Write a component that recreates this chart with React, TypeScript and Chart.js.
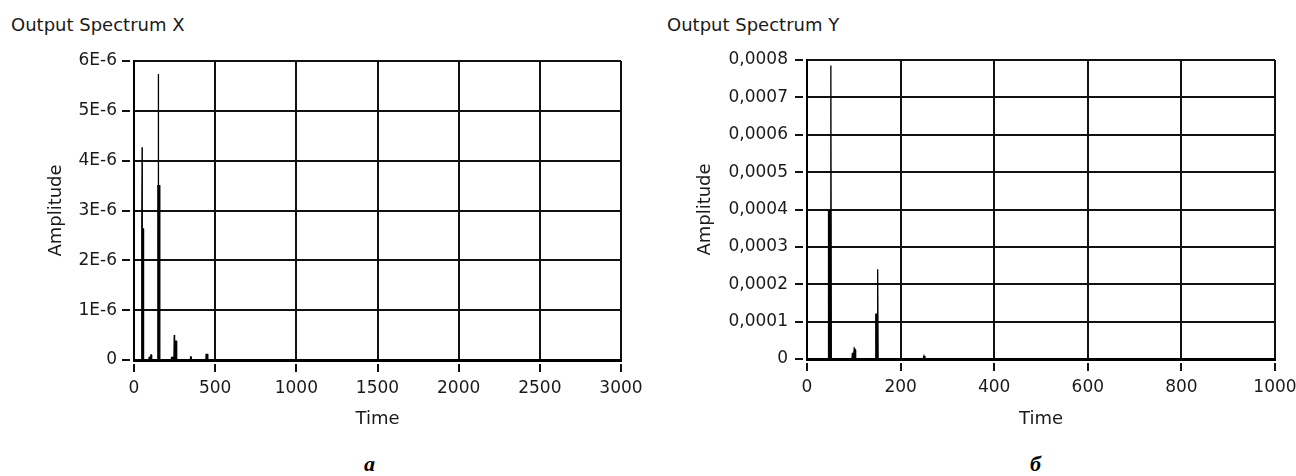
import React, { useEffect, useRef } from 'react';
import { Chart, registerables } from 'chart.js';

Chart.register(...registerables);

// ---- Output Spectrum X ----
const freqX = [0, 46, 47, 49, 50, 51, 58, 59, 92, 93, 100, 104, 108, 109, 146, 147, 149, 150, 151, 158, 159, 230, 231, 246, 248, 250, 262, 263, 346, 348, 352, 353, 443, 444, 454, 455, 3000];
const ampX = [0, 0, 2.63e-6, 2.63e-6, 4.27e-6, 2.63e-6, 2.63e-6, 0, 0, 0.05e-6, 0.06e-6, 0.1e-6, 0.1e-6, 0, 0, 3.5e-6, 3.5e-6, 5.74e-6, 3.5e-6, 3.5e-6, 0, 0, 0.05e-6, 0.05e-6, 0.5e-6, 0.38e-6, 0.38e-6, 0, 0, 0.06e-6, 0.06e-6, 0, 0, 0.11e-6, 0.11e-6, 0, 0];
const xTickValuesX = [0, 500, 1000, 1500, 2000, 2500, 3000];
const xTickLabelsX = ['0', '500', '1000', '1500', '2000', '2500', '3000'];
const yTickValuesX = [0, 1e-6, 2e-6, 3e-6, 4e-6, 5e-6, 6e-6];
const yTickLabelsX = ['0', '1E-6', '2E-6', '3E-6', '4E-6', '5E-6', '6E-6'];

// ---- Output Spectrum Y ----
const freqY = [0, 45, 46, 50, 51, 52, 96, 97, 100, 101, 103, 104, 146, 147, 150, 151, 152, 248, 250, 252, 1000];
const ampY = [0, 0, 3.96e-4, 3.96e-4, 7.85e-4, 0, 0, 1.5e-5, 1.5e-5, 2.9e-5, 2.5e-5, 0, 0, 1.2e-4, 1.2e-4, 2.4e-4, 0, 0, 8e-6, 0, 0];
const xTickValuesY = [0, 200, 400, 600, 800, 1000];
const xTickLabelsY = ['0', '200', '400', '600', '800', '1000'];
const yTickValuesY = [0, 0.0001, 0.0002, 0.0003, 0.0004, 0.0005, 0.0006, 0.0007, 0.0008];
const yTickLabelsY = ['0', '0,0001', '0,0002', '0,0003', '0,0004', '0,0005', '0,0006', '0,0007', '0,0008'];

const FONT = "'DejaVu Sans', sans-serif";
const TEXT = '#1a1a1a';
const GRID = '#111';
const H = 400;
const TOP = 40;

const tickMarks = {
  id: 'tickMarks',
  afterDraw(chart: any) {
    const { ctx, chartArea, scales } = chart;
    ctx.save();
    ctx.strokeStyle = GRID;
    ctx.lineWidth = 2;
    const xs = scales.x;
    xs.ticks.forEach((t: any) => {
      const px = Math.round(xs.getPixelForValue(t.value));
      ctx.beginPath();
      ctx.moveTo(px, chartArea.bottom + 4);
      ctx.lineTo(px, chartArea.bottom + 12);
      ctx.stroke();
    });
    const ys = scales.y;
    ys.ticks.forEach((t: any) => {
      const py = Math.round(ys.getPixelForValue(t.value));
      ctx.beginPath();
      ctx.moveTo(chartArea.left - 12, py);
      ctx.lineTo(chartArea.left - 4, py);
      ctx.stroke();
    });
    ctx.restore();
  },
};

type Props = {
  freq: number[];
  amp: number[];
  xMax: number;
  xTickValues: number[];
  xTickLabels: string[];
  yMax: number;
  yTickValues: number[];
  yTickLabels: string[];
  left: number;
  width: number;
  plotLeft: number;
  plotRight: number;
  plotTop: number;
  plotBottom: number;
  yLabelPad: number;
  yTitlePad: number;
};

function SpectrumChart(p: Props) {
  const ref = useRef<HTMLCanvasElement>(null);
  useEffect(() => {
    const chart = new Chart(ref.current as HTMLCanvasElement, {
      type: 'line',
      data: {
        datasets: [
          {
            data: p.freq.map((f, i) => ({ x: f, y: p.amp[i] })),
            borderColor: '#000',
            backgroundColor: '#000',
            borderWidth: 1.3,
            pointRadius: 0,
            fill: 'origin',
            tension: 0,
          },
        ],
      },
      options: {
        animation: false,
        responsive: false,
        events: [],
        layout: { padding: { top: p.plotTop, right: p.width - p.plotRight, left: 0, bottom: 0 } },
        plugins: { legend: { display: false }, tooltip: { enabled: false }, title: { display: false } },
        scales: {
          x: {
            type: 'linear',
            min: 0,
            max: p.xMax,
            afterBuildTicks: (s: any) => {
              s.ticks = p.xTickValues.map((v) => ({ value: v }));
            },
            afterFit: (s: any) => {
              s.height = H - p.plotBottom;
              s.paddingLeft = 0;
              s.paddingRight = 0;
            },
            grid: { color: GRID, lineWidth: 2, drawTicks: false },
            border: { display: true, color: '#000', width: 3 },
            ticks: {
              padding: 18,
              maxRotation: 0,
              autoSkip: false,
              color: TEXT,
              font: { family: FONT, size: 17 },
              callback: (_v: any, i: number) => p.xTickLabels[i],
            },
            title: {
              display: true,
              text: 'Time',
              color: TEXT,
              font: { family: FONT, size: 18 },
              padding: { top: 0, bottom: 10 },
            },
          },
          y: {
            type: 'linear',
            min: 0,
            max: p.yMax,
            afterBuildTicks: (s: any) => {
              s.ticks = p.yTickValues.map((v) => ({ value: v }));
            },
            afterFit: (s: any) => {
              s.width = p.plotLeft;
              s.paddingTop = 0;
              s.paddingBottom = 0;
            },
            grid: { color: GRID, lineWidth: 2, drawTicks: false },
            border: { display: true, color: '#000', width: 2 },
            ticks: {
              padding: p.yLabelPad,
              autoSkip: false,
              color: TEXT,
              font: { family: FONT, size: 17 },
              callback: (_v: any, i: number) => p.yTickLabels[i],
            },
            title: {
              display: true,
              text: 'Amplitude',
              color: TEXT,
              font: { family: FONT, size: 18 },
              padding: { top: p.yTitlePad, bottom: 0 },
            },
          },
        },
      },
      plugins: [tickMarks],
    } as any);
    return () => chart.destroy();
  }, []);
  return (
    <canvas
      ref={ref}
      width={p.width}
      height={H}
      style={{ position: 'absolute', left: p.left, top: TOP, width: p.width, height: H }}
    />
  );
}

const titleStyle: React.CSSProperties = {
  position: 'absolute',
  top: 16,
  fontFamily: FONT,
  fontSize: 18,
  lineHeight: '18px',
  color: TEXT,
  whiteSpace: 'nowrap',
};

const captionStyle: React.CSSProperties = {
  position: 'absolute',
  top: 453,
  fontFamily: "'Liberation Serif', serif",
  fontWeight: 'bold',
  fontStyle: 'italic',
  fontSize: 22,
  lineHeight: '22px',
  color: '#000',
};

export default function App() {
  return (
    <div style={{ position: 'absolute', left: 0, top: 0, width: 1296, height: 476, background: '#fff', overflow: 'hidden' }}>
      <div style={{ ...titleStyle, left: 11 }}>Output Spectrum X</div>
      <div style={{ ...titleStyle, left: 667 }}>Output Spectrum Y</div>
      <SpectrumChart
        freq={freqX}
        amp={ampX}
        xMax={3000}
        xTickValues={xTickValuesX}
        xTickLabels={xTickLabelsX}
        yMax={6e-6}
        yTickValues={yTickValuesX}
        yTickLabels={yTickLabelsX}
        left={0}
        width={650}
        plotLeft={134}
        plotRight={621}
        plotTop={21}
        plotBottom={320}
        yLabelPad={17}
        yTitlePad={46}
      />
      <SpectrumChart
        freq={freqY}
        amp={ampY}
        xMax={1000}
        xTickValues={xTickValuesY}
        xTickLabels={xTickLabelsY}
        yMax={0.0008}
        yTickValues={yTickValuesY}
        yTickLabels={yTickLabelsY}
        left={650}
        width={646}
        plotLeft={157}
        plotRight={625}
        plotTop={20}
        plotBottom={319}
        yLabelPad={19}
        yTitlePad={45}
      />
      <div style={{ ...captionStyle, left: 364 }}>а</div>
      <div style={{ ...captionStyle, left: 1030 }}>б</div>
    </div>
  );
}
